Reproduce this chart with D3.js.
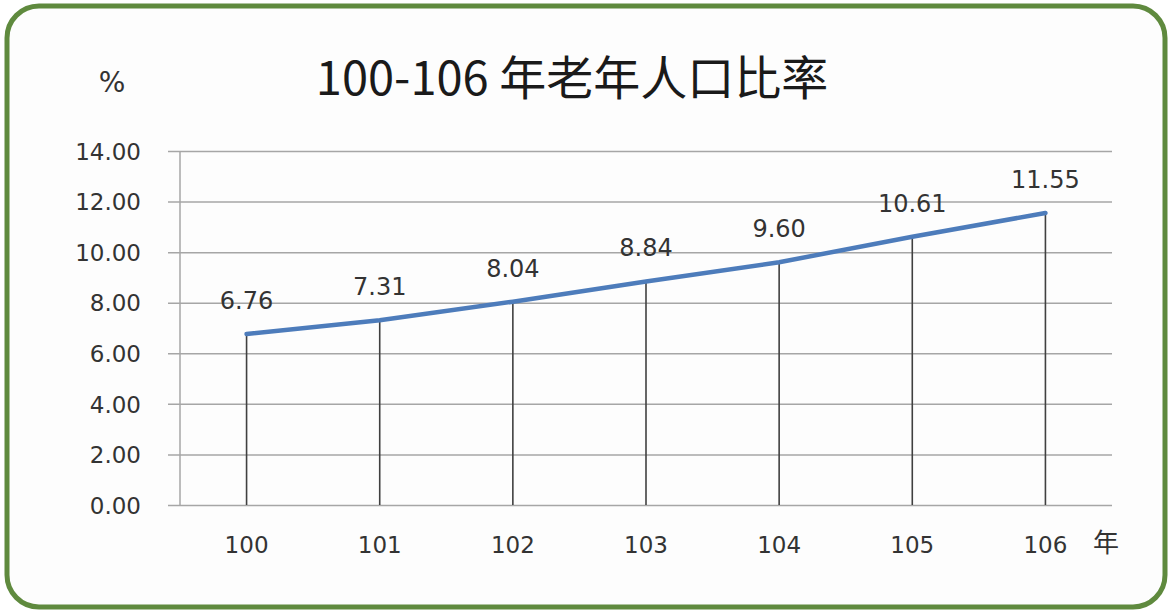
<!DOCTYPE html>
<html>
<head>
<meta charset="utf-8">
<script src="https://cdn.jsdelivr.net/npm/d3@7"></script>
<style>
  body { margin: 0; background: #fff; }
  svg { display: block; }
</style>
</head>
<body>
<svg id="chart" width="1170" height="610"></svg>
<script>
// 100-106 年老年人口比率
const years = ['100', '101', '102', '103', '104', '105', '106'];
const ratios = [6.76, 7.31, 8.04, 8.84, 9.60, 10.61, 11.55];
const yTicks = [0, 2, 4, 6, 8, 10, 12, 14];

const svg = d3.select('#chart');
const W = 1170, H = 610;

// rounded green frame
svg.append('rect')
  .attr('x', 7).attr('y', 6)
  .attr('width', W - 12).attr('height', H - 9)
  .attr('rx', 32).attr('ry', 32)
  .attr('fill', '#fdfdfd')
  .attr('stroke', '#5f8a3e')
  .attr('stroke-width', 5);

const margin = { top: 151, right: 58, bottom: 105, left: 180 };
const width = W - margin.left - margin.right;
const height = H - margin.top - margin.bottom;

const g = svg.append('g').attr('transform', `translate(${margin.left},${margin.top})`);

const x = d3.scaleBand().domain(years).range([0, width]).padding(0);
const y = d3.scaleLinear().domain([0, 14]).range([height, 0]);

const fontLatin = '"DejaVu Sans", Verdana, sans-serif';

// horizontal grid + outer ticks
const yAxis = g.append('g')
  .call(d3.axisLeft(y).tickValues(yTicks).tickSize(-width - 12).tickFormat(d3.format('.2f')))
  .attr('transform', 'translate(-12,0)');
yAxis.select('.domain').remove();
yAxis.selectAll('line').attr('stroke', '#a6a6a6').attr('stroke-width', 1.5);
yAxis.selectAll('text')
  .attr('x', -27)
  .attr('dy', '0.36em')
  .attr('fill', '#333')
  .style('font-family', fontLatin)
  .style('font-size', '23px');

// vertical axis line
g.append('line')
  .attr('x1', 0).attr('x2', 0)
  .attr('y1', 0).attr('y2', height)
  .attr('stroke', '#a6a6a6').attr('stroke-width', 1.5);

// drop lines
g.selectAll('.drop')
  .data(years)
  .enter().append('line')
  .attr('class', 'drop')
  .attr('x1', (d) => x(d) + x.bandwidth() / 2)
  .attr('x2', (d) => x(d) + x.bandwidth() / 2)
  .attr('y1', (d, i) => y(ratios[i]))
  .attr('y2', y(0))
  .attr('stroke', '#404040')
  .attr('stroke-width', 1.6);

// line
const line = d3.line()
  .x((d, i) => x(years[i]) + x.bandwidth() / 2)
  .y((d) => y(d));
g.append('path')
  .datum(ratios)
  .attr('d', line)
  .attr('fill', 'none')
  .attr('stroke', '#4d7cbb')
  .attr('stroke-width', 4.5)
  .attr('stroke-linecap', 'round');

// data labels
g.selectAll('.lbl')
  .data(ratios)
  .enter().append('text')
  .attr('class', 'lbl')
  .attr('x', (d, i) => x(years[i]) + x.bandwidth() / 2)
  .attr('y', (d) => y(d) - 25)
  .attr('text-anchor', 'middle')
  .attr('fill', '#333')
  .style('font-family', fontLatin)
  .style('font-size', '24px')
  .text((d) => d.toFixed(2));

// x labels
g.selectAll('.xl')
  .data(years)
  .enter().append('text')
  .attr('class', 'xl')
  .attr('x', (d) => x(d) + x.bandwidth() / 2)
  .attr('y', height + 48)
  .attr('text-anchor', 'middle')
  .attr('fill', '#333')
  .style('font-family', fontLatin)
  .style('font-size', '23px')
  .text((d) => d);

// unit labels
svg.append('text')
  .attr('x', 1106).attr('y', 552)
  .attr('text-anchor', 'middle')
  .attr('fill', '#333')
  .style('font-family', '"Noto Sans CJK TC", sans-serif')
  .style('font-size', '26px')
  .text('年');

svg.append('text')
  .attr('x', 112).attr('y', 92)
  .attr('text-anchor', 'middle')
  .attr('fill', '#333')
  .style('font-family', fontLatin)
  .style('font-size', '28px')
  .text('%');

// title
svg.append('text')
  .attr('x', 572).attr('y', 95)
  .attr('text-anchor', 'middle')
  .attr('fill', '#1a1a1a')
  .style('font-family', '"Noto Sans CJK TC", sans-serif')
  .style('font-size', '47px')
  .text('100-106 年老年人口比率');
</script>
</body>
</html>
